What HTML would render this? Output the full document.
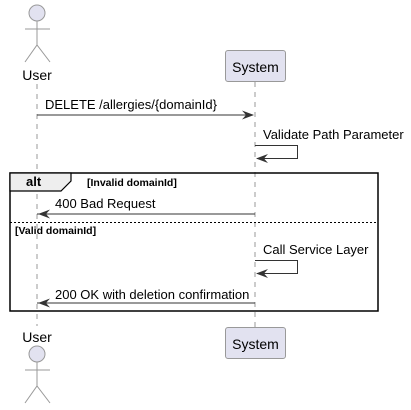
<!DOCTYPE html>
<html><head><style>body{margin:0;background:#fff}svg{display:block}</style></head><body>
<svg width="411" height="410" xmlns="http://www.w3.org/2000/svg" font-family="Liberation Sans, sans-serif">
<rect width="411" height="410" fill="#fff"/>
<g stroke="#999" stroke-width="1" stroke-dasharray="5,5">
<line x1="37" y1="84" x2="37" y2="326"/>
<line x1="255" y1="82" x2="255" y2="327"/>
</g>
<g fill="#E2E2F0" stroke="#999" stroke-width="1">
<circle cx="37" cy="13" r="8"/>
<circle cx="37" cy="354" r="8"/>
</g>
<g stroke="#999" fill="none">
<path d="M37 21V45M25 29H50M25 62L37 45L50 62"/>
<path d="M37 362V386M25 370H50M25 403L37 386L50 403"/>
</g>
<text x="37" y="80" font-size="14" text-anchor="middle" fill="#000">User</text>
<text x="37" y="342" font-size="14" text-anchor="middle" fill="#000">User</text>
<rect x="225.5" y="50.5" width="60" height="31" rx="2.5" fill="#E2E2F0" stroke="#999"/>
<text x="255.5" y="72" font-size="14" text-anchor="middle">System</text>
<rect x="225.5" y="327.5" width="60" height="31" rx="2.5" fill="#E2E2F0" stroke="#999"/>
<text x="255.5" y="349" font-size="14" text-anchor="middle">System</text>
<line x1="37" y1="115" x2="253" y2="115" stroke="#333"/>
<path d="M242 110.5L254 115L242 119.5L246 115Z" fill="#333"/>
<text x="45" y="109" font-size="13">DELETE /allergies/{domainId}</text>
<text x="263" y="139" font-size="13">Validate Path Parameter</text>
<path d="M255 145.5H297.5V158.5H257" fill="none" stroke="#333"/>
<path d="M256 158.5L268 154L264 158.5L268 163Z" fill="#333"/>
<rect x="10" y="173" width="368" height="138" fill="none" stroke="#000" stroke-width="1.5"/>
<path d="M10 173H71V181L61 191H10Z" fill="#eee" stroke="#000" stroke-width="1.2"/>
<text x="26" y="186" font-size="13" font-weight="bold">alt</text>
<text x="87" y="186" font-size="10.5" font-weight="bold">[Invalid domainId]</text>
<line x1="37" y1="214" x2="255" y2="214" stroke="#333"/>
<path d="M38 214L50 209.5L46 214L50 218.5Z" fill="#333"/>
<text x="55" y="208" font-size="13">400 Bad Request</text>
<line x1="10" y1="222.5" x2="378" y2="222.5" stroke="#000" stroke-dasharray="2,2"/>
<text x="15" y="234" font-size="10.5" font-weight="bold">[Valid domainId]</text>
<text x="263" y="254" font-size="13">Call Service Layer</text>
<path d="M255 260.5H297.5V273.5H257" fill="none" stroke="#333"/>
<path d="M256 273.5L268 269L264 273.5L268 278Z" fill="#333"/>
<line x1="37" y1="303" x2="255" y2="303" stroke="#333"/>
<path d="M38 303L50 298.5L46 303L50 307.5Z" fill="#333"/>
<text x="55" y="299" font-size="13">200 OK with deletion confirmation</text>
</svg>
</body></html>
